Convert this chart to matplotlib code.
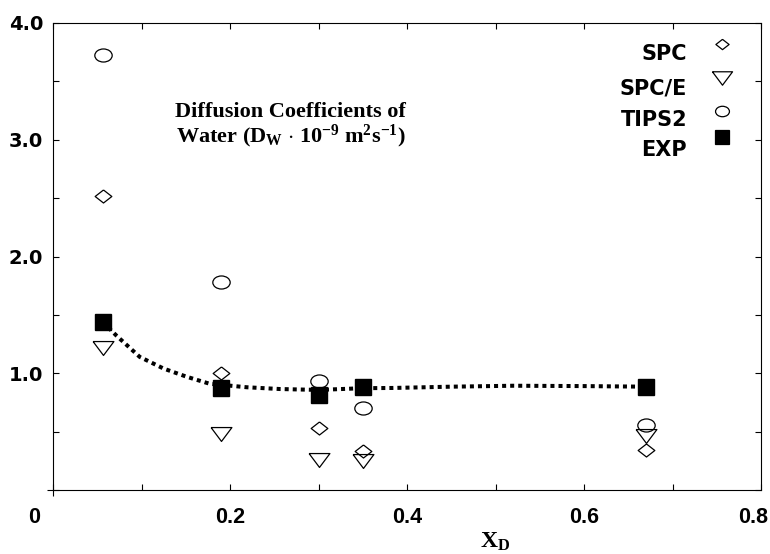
import matplotlib
matplotlib.use("Agg")
import matplotlib.pyplot as plt
from matplotlib.path import Path
from matplotlib.transforms import Affine2D, ScaledTranslation
import numpy as np

#======#
# Data #
#======#

x_d = [0.056, 0.19, 0.30, 0.35, 0.67]
d_spc = [2.52, 1.00, 0.53, 0.33, 0.34]
d_spce = [1.22, 0.48, 0.26, 0.25, 0.46]
d_tips2 = [3.73, 1.78, 0.93, 0.70, 0.56]
d_exp = [1.44, 0.87, 0.81, 0.88, 0.885]

fit_x = [0.056, 0.072, 0.098, 0.125, 0.151, 0.177, 0.219, 0.256, 0.30,
         0.35, 0.384, 0.45, 0.52, 0.60, 0.67]
fit_y = [1.44, 1.32, 1.14, 1.04, 0.97, 0.91, 0.88, 0.865, 0.857,
         0.872, 0.874, 0.885, 0.893, 0.89, 0.885]

series_labels = ["SPC", "SPC/E", "TIPS2", "EXP"]

xticks = [0.0, 0.1, 0.2, 0.3, 0.4, 0.5, 0.6, 0.7, 0.8]
xtick_labels = ["0", "", "0.2", "", "0.4", "", "0.6", "", "0.8"]
yticks = [0.0, 0.5, 1.0, 1.5, 2.0, 2.5, 3.0, 3.5, 4.0]
ytick_labels = ["", "", "1.0", "", "2.0", "", "3.0", "", "4.0"]

#=========#
# Markers #
#=========#

diamond = [(0, 1), (1.28, 0), (0, -1), (-1.28, 0), (0, 1)]
tri_down = [(-1.5, 1), (1.5, 1), (0, -1), (-1.5, 1)]
ellipse = Path.unit_circle().transformed(Affine2D().scale(1.33, 1.0))

plt.rcParams["mathtext.fontset"] = "custom"
plt.rcParams["mathtext.rm"] = "Liberation Serif:bold"
plt.rcParams["mathtext.it"] = "Liberation Serif:bold:italic"
plt.rcParams["mathtext.bf"] = "Liberation Serif:bold"

fig = plt.figure(figsize=(7.7, 5.54), dpi=100)
ax = fig.add_axes([53 / 770, 64 / 554, 708 / 770, 467 / 554])

open_kw = dict(linestyle="none", markerfacecolor="none",
               markeredgecolor="black", markeredgewidth=0.9)

ax.plot(fit_x, fit_y, color="black", linewidth=2.9,
        linestyle=(0, (1, 1)), dash_capstyle="butt", zorder=2)
ax.plot(x_d, d_spc, marker=diamond, markersize=12, zorder=3, **open_kw)
ax.plot(x_d, d_spce, marker=tri_down, markersize=15, zorder=3, **open_kw)
ax.plot(x_d, d_tips2, marker=ellipse, markersize=12.5, zorder=3, **open_kw)
ax.plot(x_d, d_exp, marker="s", markersize=11.8, linestyle="none",
        color="black", zorder=4)

#========#
# Legend #
#========#

leg_markers = [(diamond, 9.5, "none"), (tri_down, 14.5, "none"),
               (ellipse, 10.0, "none"), ("s", 10.0, "black")]
leg_text_y = [0.9336, 0.8608, 0.7923, 0.728]
leg_mark_y = [0.955, 0.882, 0.8116, 0.756]
for lab, (mk, ms, fc), ty, my in zip(series_labels, leg_markers, leg_text_y, leg_mark_y):
    ax.text(0.8955, ty, lab, transform=ax.transAxes, ha="right", va="center",
            fontsize=15, fontweight="bold", family="DejaVu Sans")
    ax.plot([0.945], [my], transform=ax.transAxes, marker=mk, markersize=ms,
            markerfacecolor=fc, markeredgecolor="black", markeredgewidth=0.9,
            linestyle="none", clip_on=False)

#============#
# Annotation #
#============#

ax.text(0.336, 0.798, "Diffusion Coefficients of", transform=ax.transAxes,
        ha="center", va="baseline", fontsize=16, fontweight="bold",
        family="Liberation Serif")
ax.text(0.336, 0.744,
        r"Water (D$_\mathrm{W}$ $\cdot$ 10$^{\mathrm{-9}}$ m$^{\mathrm{2}}$s$^{\mathrm{-1}}$)",
        transform=ax.transAxes, ha="center", va="baseline", fontsize=16,
        fontweight="bold", family="Liberation Serif")

#======#
# Axes #
#======#

ax.set_xlim(0, 0.8)
ax.set_ylim(0, 4.0)
ax.set_xticks(xticks)
ax.set_xticklabels(xtick_labels, fontsize=15.5, fontweight="bold",
                   family="Liberation Sans")
ax.set_yticks(yticks)
ax.set_yticklabels(ytick_labels, fontsize=14, fontweight="bold",
                   family="DejaVu Sans")
ax.tick_params(direction="in", length=4, width=0.8, top=True, right=True,
               color="black")
ax.tick_params(axis="x", pad=12.5)
ax.tick_params(axis="y", pad=7)

# origin ticks cross the axis lines
t0 = ax.xaxis.get_major_ticks()[0]
t0.tick1line.set_marker("|")
t0.tick1line.set_markersize(8)
y0 = ax.yaxis.get_major_ticks()[0]
y0.tick1line.set_marker("_")
y0.tick1line.set_markersize(8)

# the "0" label sits left of the origin, "0.8" is pulled in from the edge
lbl0 = t0.label1
lbl0.set_transform(lbl0.get_transform() + ScaledTranslation(-0.19, 0, fig.dpi_scale_trans))
lbl8 = ax.xaxis.get_major_ticks()[-1].label1
lbl8.set_transform(lbl8.get_transform() + ScaledTranslation(-0.08, 0, fig.dpi_scale_trans))

for s in ax.spines.values():
    s.set_linewidth(0.8)
    s.set_color("black")

ax.set_xlabel(r"X$_\mathrm{D}$", fontsize=17, fontweight="bold",
              family="Liberation Serif")
ax.xaxis.set_label_coords(0.625, -0.088)

fig.savefig("out.png", dpi=100)
